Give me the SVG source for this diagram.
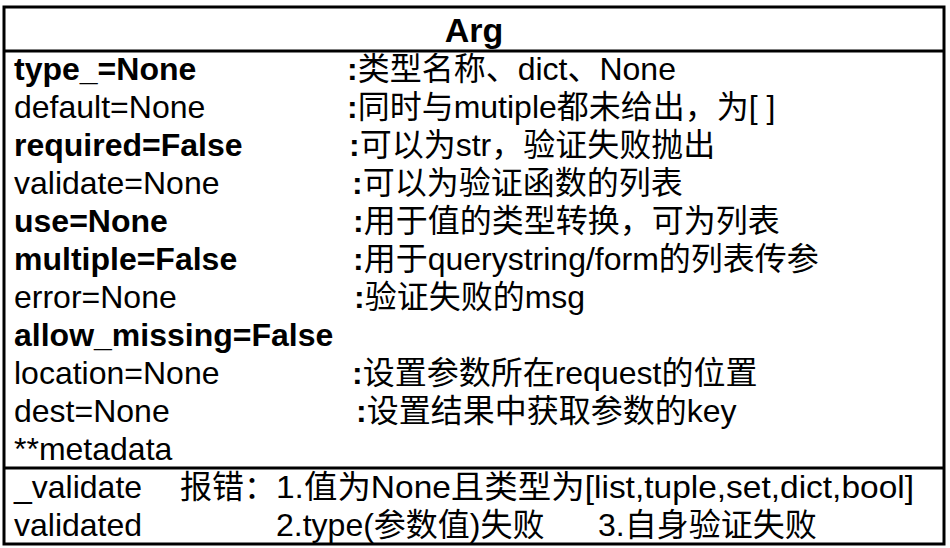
<svg xmlns="http://www.w3.org/2000/svg" width="950" height="548" viewBox="0 0 950 548">
  <style>
    .box { fill: #ffffff; stroke: #000000; stroke-width: 3; }
    .div { stroke: #000000; stroke-width: 3; }
    text { font-family: "Liberation Sans", "Noto Sans CJK SC", Arial, sans-serif; font-size: 32px; fill: #000000; }
    .title { font-size: 34px; font-weight: bold; text-anchor: middle; }
    .b { font-weight: bold; }
  </style>
  <rect width="950" height="548" fill="#ffffff"/>
  <g id="arg-class">
    <rect class="box" x="4" y="7" width="940" height="537"/>
    <line class="div" x1="4" y1="51" x2="944" y2="51"/>
    <line class="div" x1="4" y1="468" x2="944" y2="468"/>
    <text class="title" x="474" y="42">Arg</text>

    <g id="attributes">
      <text class="b" x="14" y="80">type_=None</text>
      <text x="14" y="118">default=None</text>
      <text class="b" x="14" y="156">required=False</text>
      <text x="14" y="194">validate=None</text>
      <text class="b" x="14" y="232">use=None</text>
      <text class="b" x="14" y="270">multiple=False</text>
      <text x="14" y="308">error=None</text>
      <text class="b" x="14" y="346">allow_missing=False</text>
      <text x="14" y="384">location=None</text>
      <text x="14" y="422">dest=None</text>
      <text x="14" y="460">**metadata</text>
    </g>

    <g id="descriptions">
      <text x="347" y="80"><tspan class="b">:</tspan>类型名称、dict、None</text>
      <text x="347" y="118"><tspan class="b">:</tspan>同时与mutiple都未给出，为[ ]</text>
      <text x="349" y="156"><tspan class="b">:</tspan>可以为str，验证失败抛出</text>
      <text x="352" y="194"><tspan class="b">:</tspan>可以为验证函数的列表</text>
      <text x="353" y="232"><tspan class="b">:</tspan>用于值的类型转换，可为列表</text>
      <text x="353" y="270"><tspan class="b">:</tspan>用于querystring/form的列表传参</text>
      <text x="354" y="308"><tspan class="b">:</tspan>验证失败的msg</text>
      <text x="352" y="384"><tspan class="b">:</tspan>设置参数所在request的位置</text>
      <text x="356" y="422"><tspan class="b">:</tspan>设置结果中获取参数的key</text>
    </g>

    <g id="methods">
      <text x="14" y="498">_validate</text>
      <text x="14" y="536">validated</text>
      <text x="180" y="498">报错：</text>
      <text x="276" y="498" textLength="638" lengthAdjust="spacingAndGlyphs">1.值为None且类型为[list,tuple,set,dict,bool]</text>
      <text x="276" y="536">2.type(参数值)失败</text>
      <text x="598" y="536">3.自身验证失败</text>
    </g>
  </g>
</svg>
